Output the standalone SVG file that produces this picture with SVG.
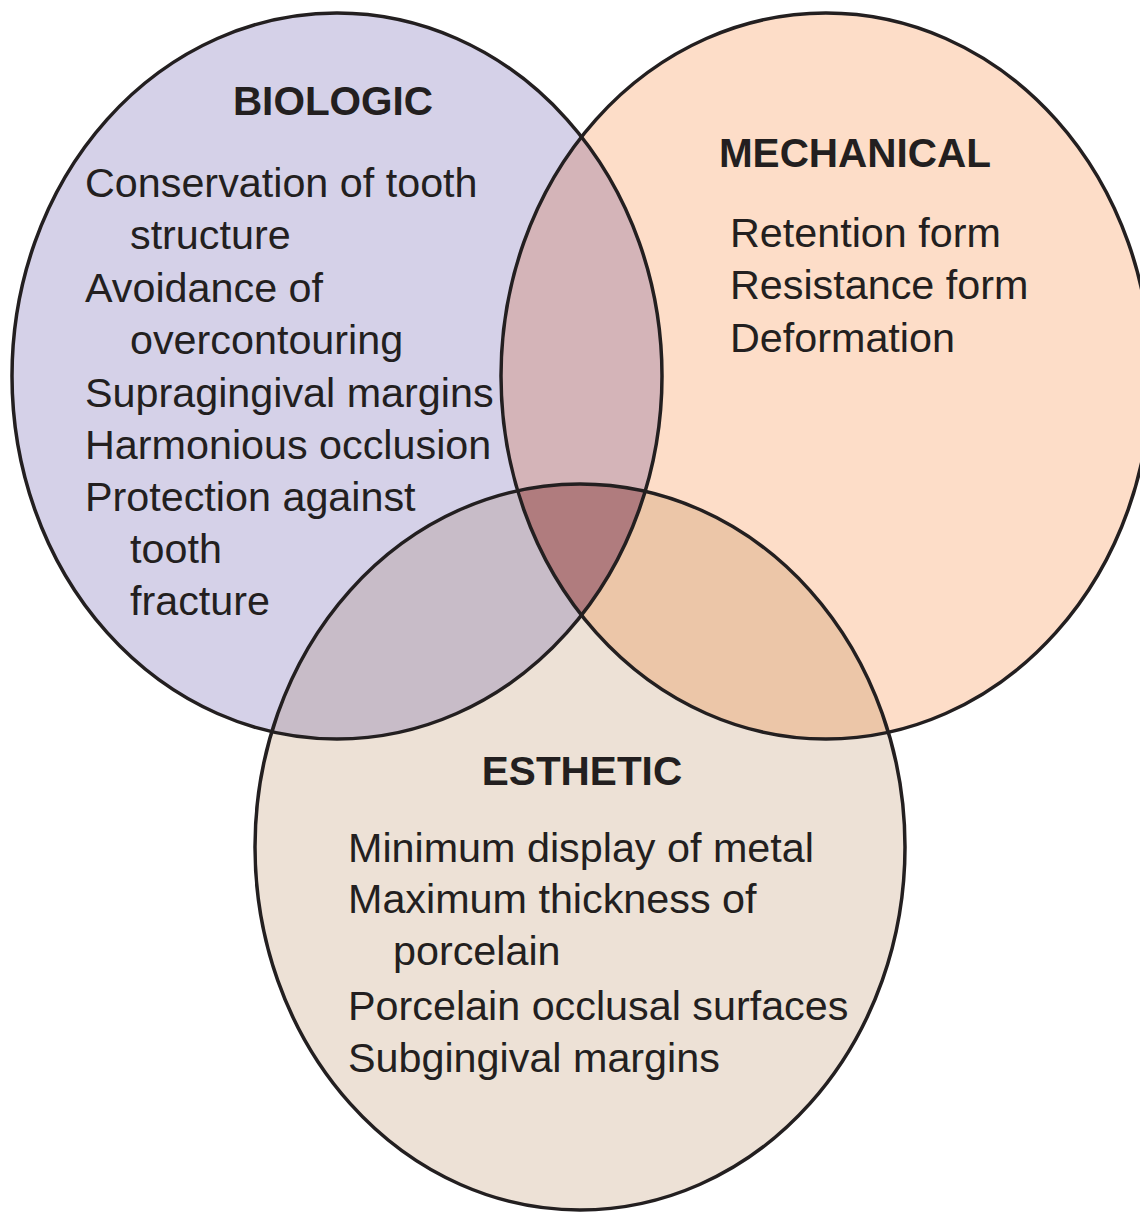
<svg xmlns="http://www.w3.org/2000/svg" xmlns:xlink="http://www.w3.org/1999/xlink" width="1140" height="1212" viewBox="0 0 1140 1212">
<style>
.out{fill:none;stroke:#231f20;stroke-width:3.5}
.title{font-family:"Liberation Sans",Arial,sans-serif;font-weight:bold;font-size:40.5px;fill:#231f20;text-anchor:middle}
.item{font-family:"Liberation Sans",Arial,sans-serif;font-size:41.3px;fill:#231f20}
</style>
<defs>
<ellipse id="eB" cx="337" cy="376" rx="325" ry="363"/>
<ellipse id="eM" cx="826" cy="376" rx="325" ry="363"/>
<ellipse id="eE" cx="580" cy="847" rx="325" ry="363"/>
<clipPath id="cB"><use xlink:href="#eB"/></clipPath>
<clipPath id="cM"><use xlink:href="#eM"/></clipPath>
</defs>
<rect width="1140" height="1212" fill="#ffffff"/>
<g id="fills">
<use xlink:href="#eB" fill="#d5d1e8"/>
<use xlink:href="#eM" fill="#fdddc8"/>
<use xlink:href="#eE" fill="#ede1d6"/>
</g>
<g id="overlaps">
<g clip-path="url(#cB)"><use xlink:href="#eM" fill="#d4b4b8"/></g>
<g clip-path="url(#cB)"><use xlink:href="#eE" fill="#c8bcc8"/></g>
<g clip-path="url(#cM)"><use xlink:href="#eE" fill="#ecc6a8"/></g>
<g clip-path="url(#cB)"><g clip-path="url(#cM)"><use xlink:href="#eE" fill="#b07c7e"/></g></g>
</g>
<g id="connectors"/>
<g id="biologic">
<use xlink:href="#eB" class="out"/>
<text class="title" x="333" y="115">BIOLOGIC</text>
<text class="item" x="85" y="197">Conservation of tooth</text>
<text class="item" x="130" y="249">structure</text>
<text class="item" x="85" y="302">Avoidance of</text>
<text class="item" x="130" y="354">overcontouring</text>
<text class="item" x="85" y="407">Supragingival margins</text>
<text class="item" x="85" y="459">Harmonious occlusion</text>
<text class="item" x="85" y="511">Protection against</text>
<text class="item" x="130" y="563">tooth</text>
<text class="item" x="130" y="615">fracture</text>
</g>
<g id="mechanical">
<use xlink:href="#eM" class="out"/>
<text class="title" x="855" y="167">MECHANICAL</text>
<text class="item" x="730" y="247">Retention form</text>
<text class="item" x="730" y="299">Resistance form</text>
<text class="item" x="730" y="352">Deformation</text>
</g>
<g id="esthetic">
<use xlink:href="#eE" class="out"/>
<text class="title" x="582" y="785">ESTHETIC</text>
<text class="item" x="348" y="862">Minimum display of metal</text>
<text class="item" x="348" y="913">Maximum thickness of</text>
<text class="item" x="393" y="965">porcelain</text>
<text class="item" x="348" y="1020">Porcelain occlusal surfaces</text>
<text class="item" x="348" y="1072">Subgingival margins</text>
</g>
</svg>
